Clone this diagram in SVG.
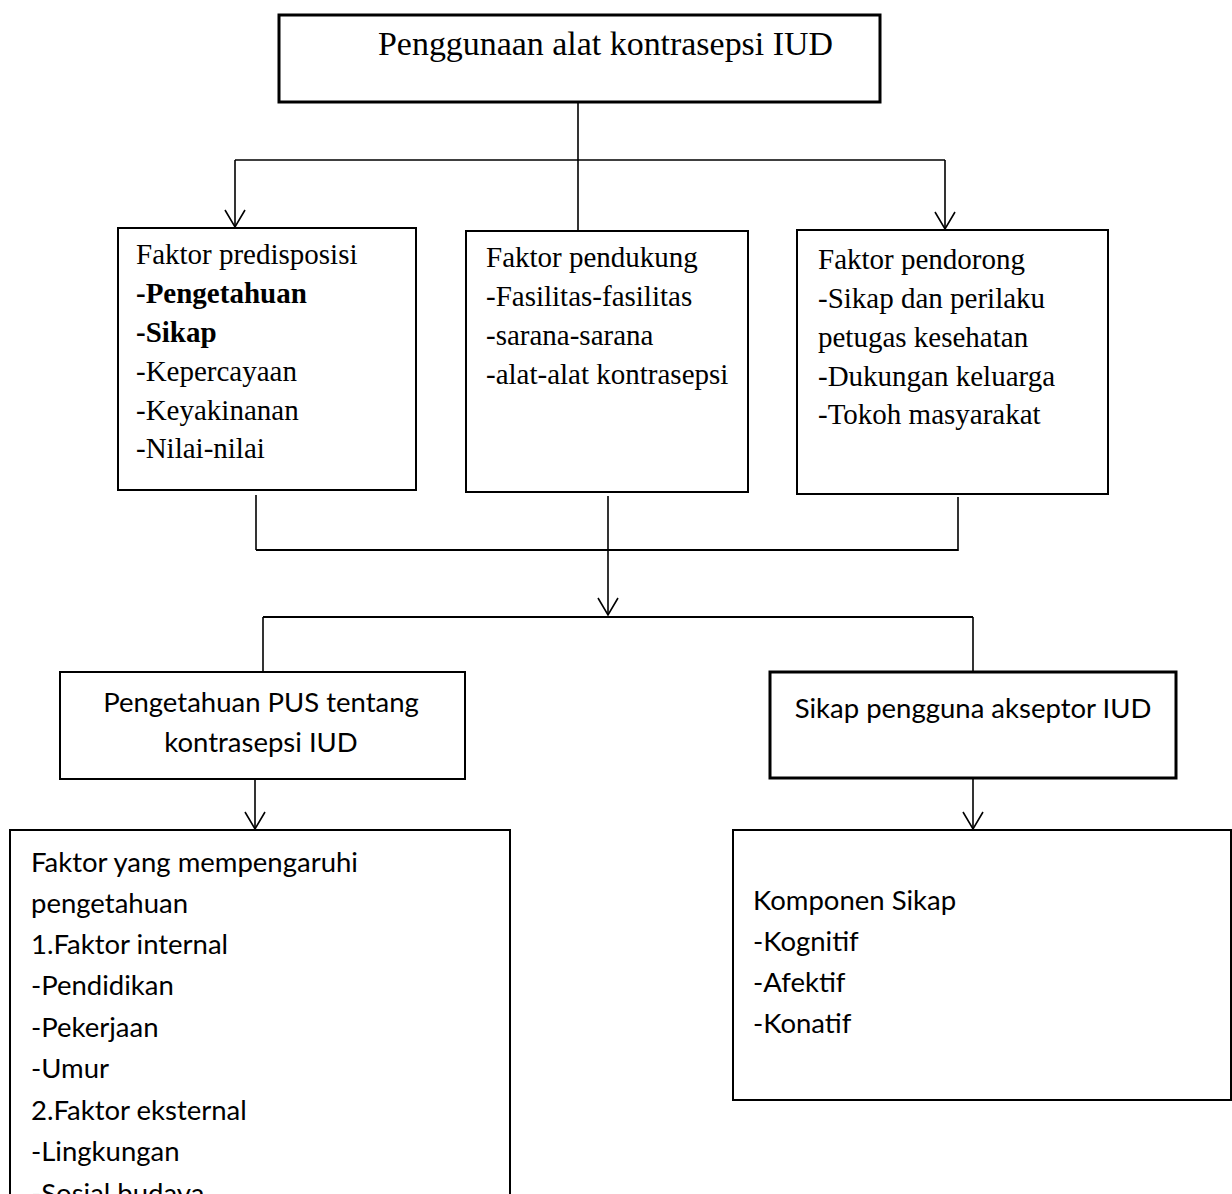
<svg xmlns="http://www.w3.org/2000/svg" width="1232" height="1194" viewBox="0 0 1232 1194">
<style>
.box{fill:#fff;stroke:#000;stroke-width:2}
.thick{stroke-width:3}
.tnr{font-family:"Liberation Serif","Times New Roman",serif;font-size:29px;fill:#000}
.title{font-size:34.5px}
.b{font-weight:bold}
.cal{font-family:Lato,"Open Sans",sans-serif;font-size:27.5px;fill:#000}
.c{stroke:#000;stroke-width:1.6;fill:none}
.c2{stroke-width:2}
</style>
<defs>
<marker id="arr" markerUnits="userSpaceOnUse" viewBox="-20 -12 22 24" refX="0" refY="0" markerWidth="22" markerHeight="24" orient="auto">
<path d="M-17,-10 L0,0 L-17,10" fill="none" stroke="#000" stroke-width="1.6"/>
</marker>
</defs>
<rect width="1232" height="1194" fill="#fff"/>
<g id="connectors">
<line class="c" x1="578" y1="102" x2="578" y2="230"/>
<line class="c" x1="235" y1="160" x2="945" y2="160"/>
<line class="c" x1="235" y1="160" x2="235" y2="227" marker-end="url(#arr)"/>
<line class="c" x1="945" y1="160" x2="945" y2="229" marker-end="url(#arr)"/>
<line class="c" x1="256" y1="495" x2="256" y2="550"/>
<line class="c" x1="608" y1="496" x2="608" y2="550"/>
<line class="c" x1="958" y1="497" x2="958" y2="551"/>
<line class="c c2" x1="256" y1="550" x2="958" y2="550"/>
<line class="c" x1="608" y1="550" x2="608" y2="615" marker-end="url(#arr)"/>
<line class="c c2" x1="263" y1="617" x2="973" y2="617"/>
<line class="c" x1="263" y1="617" x2="263" y2="671"/>
<line class="c" x1="973" y1="617" x2="973" y2="672"/>
<line class="c" x1="255" y1="779" x2="255" y2="829" marker-end="url(#arr)"/>
<line class="c" x1="973" y1="778" x2="973" y2="829" marker-end="url(#arr)"/>
</g>
<g id="n-title">
<rect class="box thick" x="279" y="15" width="601" height="87"/>
<text class="tnr title" x="378" y="55" textLength="455" lengthAdjust="spacingAndGlyphs">Penggunaan alat kontrasepsi IUD</text>
</g>
<g id="n-predisposisi">
<rect class="box" x="118" y="228" width="298" height="262"/>
<text class="tnr" x="136" y="264">Faktor predisposisi</text>
<text class="tnr b" x="136" y="303">-Pengetahuan</text>
<text class="tnr b" x="136" y="342">-Sikap</text>
<text class="tnr" x="136" y="381">-Kepercayaan</text>
<text class="tnr" x="136" y="420">-Keyakinanan</text>
<text class="tnr" x="136" y="458">-Nilai-nilai</text>
</g>
<g id="n-pendukung">
<rect class="box" x="466" y="231" width="282" height="261"/>
<text class="tnr" x="486" y="267">Faktor pendukung</text>
<text class="tnr" x="486" y="306">-Fasilitas-fasilitas</text>
<text class="tnr" x="486" y="345">-sarana-sarana</text>
<text class="tnr" x="486" y="384">-alat-alat kontrasepsi</text>
</g>
<g id="n-pendorong">
<rect class="box" x="797" y="230" width="311" height="264"/>
<text class="tnr" x="818" y="269">Faktor pendorong</text>
<text class="tnr" x="818" y="308">-Sikap dan perilaku</text>
<text class="tnr" x="818" y="347">petugas kesehatan</text>
<text class="tnr" x="818" y="386">-Dukungan keluarga</text>
<text class="tnr" x="818" y="424">-Tokoh masyarakat</text>
</g>
<g id="n-pengetahuan-pus">
<rect class="box" x="60" y="672" width="405" height="107"/>
<text class="cal" x="261" y="712" text-anchor="middle">Pengetahuan PUS tentang</text>
<text class="cal" x="261" y="752" text-anchor="middle">kontrasepsi IUD</text>
</g>
<g id="n-sikap">
<rect class="box thick" x="770" y="672" width="406" height="106"/>
<text class="cal" x="973" y="718" text-anchor="middle">Sikap pengguna akseptor IUD</text>
</g>
<g id="n-faktor-pengetahuan">
<rect class="box" x="10" y="830" width="500" height="400"/>
<text class="cal" x="31" y="872">Faktor yang mempengaruhi</text>
<text class="cal" x="31" y="913">pengetahuan</text>
<text class="cal" x="31" y="954">1.Faktor internal</text>
<text class="cal" x="31" y="995">-Pendidikan</text>
<text class="cal" x="31" y="1037">-Pekerjaan</text>
<text class="cal" x="31" y="1078">-Umur</text>
<text class="cal" x="31" y="1120">2.Faktor eksternal</text>
<text class="cal" x="31" y="1161">-Lingkungan</text>
<text class="cal" x="31" y="1203">-Sosial budaya</text>
</g>
<g id="n-komponen">
<rect class="box" x="733" y="830" width="498" height="270"/>
<text class="cal" x="753" y="910">Komponen Sikap</text>
<text class="cal" x="753" y="951">-Kognitif</text>
<text class="cal" x="753" y="992">-Afektif</text>
<text class="cal" x="753" y="1033">-Konatif</text>
</g>
</svg>
